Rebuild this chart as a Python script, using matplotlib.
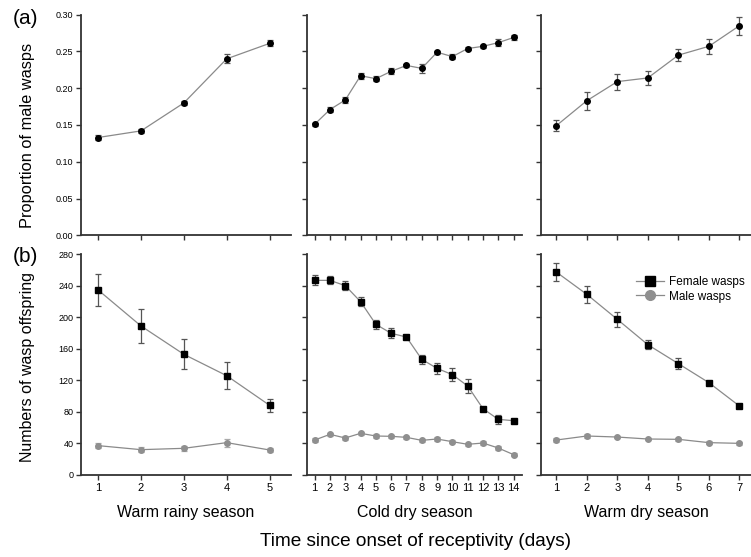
import numpy as np
import matplotlib.pyplot as plt
from matplotlib.lines import Line2D

plt.rcParams['font.family'] = ['Liberation Sans', 'DejaVu Sans']

seasons = ["Warm rainy season", "Cold dry season", "Warm dry season"]

# (a) proportion of male wasps, mean and SE
prop_mean = [
    [0.133, 0.142, 0.180, 0.240, 0.261],
    [0.151, 0.171, 0.184, 0.217, 0.213, 0.223, 0.231, 0.227, 0.249, 0.243, 0.254, 0.257, 0.262, 0.269],
    [0.149, 0.183, 0.209, 0.214, 0.245, 0.257, 0.285],
]
prop_se = [
    [0.004, 0.003, 0.003, 0.006, 0.004],
    [0.002, 0.003, 0.004, 0.004, 0.003, 0.004, 0.002, 0.006, 0.002, 0.003, 0.002, 0.002, 0.005, 0.003],
    [0.0075, 0.012, 0.011, 0.0097, 0.0086, 0.010, 0.012],
]

# (b) offspring numbers
female_mean = [
    [234.4, 188.8, 152.9, 125.8, 88.3],
    [246.6, 246.6, 239.9, 219.6, 190.9, 179.5, 174.8, 146.5, 135.1, 127.1, 112.8, 84.0, 70.5, 68.8],
    [257.2, 228.9, 197.2, 165.1, 141.1, 117.0, 87.4],
]
female_se = [
    [20.5, 21.3, 19.0, 17.1, 8.0],
    [6.3, 4.9, 5.7, 5.3, 5.9, 6.3, 2.0, 5.7, 7.2, 8.2, 9.1, 2.0, 5.9, 2.0],
    [11.2, 10.6, 9.3, 5.5, 6.8, 2.0, 2.0],
]
male_mean = [
    [37.2, 32.1, 33.8, 41.0, 31.7],
    [44.3, 51.5, 46.9, 52.8, 49.4, 49.0, 47.7, 43.9, 45.6, 42.2, 38.9, 40.5, 34.2, 25.8],
    [44.3, 49.4, 48.1, 45.6, 45.2, 41.0, 40.1],
]
male_se = [
    [3.0, 3.0, 3.0, 5.0, 2.0],
    [2.0, 2.0, 2.0, 2.0, 2.0, 2.0, 2.0, 2.0, 2.0, 2.0, 2.0, 2.0, 2.5, 1.5],
    [2.0, 2.0, 1.5, 1.5, 1.5, 1.5, 1.5],
]

W, H = 751, 557
fig = plt.figure(figsize=(W / 100, H / 100), dpi=100)

# panel x extents in pixels and x limits
px = [(81, 291), (307, 522), (541, 751)]
xlims = [(0.6, 5.5), (0.5, 14.55), (0.5, 7.38)]
top_y = (14.7, 235.3)
bot_y = (254, 475)

def make_ax(xr, yr):
    return fig.add_axes([xr[0] / W, 1 - yr[1] / H, (xr[1] - xr[0]) / W, (yr[1] - yr[0]) / H])

def style(ax):
    for s in ['top', 'right']:
        ax.spines[s].set_visible(False)
    for s in ['left', 'bottom']:
        ax.spines[s].set_linewidth(1.3)
        ax.spines[s].set_color('#333333')
    ax.tick_params(direction='out', length=3.5, width=1, color='#333333', labelsize=6.5, pad=2)

line_c = '#8a8a8a'
err_c = '#555555'
ms = 4

for i in range(3):
    n = len(prop_mean[i])
    days = np.arange(1, n + 1)

    ax = make_ax(px[i], top_y)
    style(ax)
    ax.errorbar(days, prop_mean[i], yerr=prop_se[i], color=line_c, lw=0.9,
                marker='o', ms=ms, mfc='black', mec='black',
                ecolor=err_c, elinewidth=0.9, capsize=2, capthick=0.9)
    ax.set_xlim(*xlims[i])
    ax.set_ylim(0, 0.30)
    ax.set_yticks(np.arange(0, 0.31, 0.05))
    ax.set_xticks(days)
    ax.set_xticklabels([])
    if i == 0:
        ax.set_yticklabels(['%.2f' % v for v in np.arange(0, 0.31, 0.05)])
    else:
        ax.set_yticklabels([])

    ax2 = make_ax(px[i], bot_y)
    style(ax2)
    ax2.errorbar(days, female_mean[i], yerr=female_se[i], color=line_c, lw=0.9,
                 marker='s', ms=ms, mfc='black', mec='black',
                 ecolor=err_c, elinewidth=0.9, capsize=2, capthick=0.9)
    ax2.errorbar(days, male_mean[i], yerr=male_se[i], color=line_c, lw=0.9,
                 marker='o', ms=ms, mfc='#8f8f8f', mec='#8f8f8f',
                 ecolor='#aaaaaa', elinewidth=0.9, capsize=2, capthick=0.9)
    ax2.set_xlim(*xlims[i])
    ax2.set_ylim(0, 280)
    ax2.set_yticks(np.arange(0, 281, 40))
    ax2.set_xticks(days)
    ax2.tick_params(axis='x', labelsize=8)
    if i != 0:
        ax2.set_yticklabels([])
    cx = (px[i][0] + px[i][1]) / 2 / W
    fig.text(cx, 1 - 513 / H, seasons[i], ha='center', va='center', fontsize=11.5)
    if i == 2:
        handles = [
            Line2D([], [], color=line_c, lw=0.9, marker='s', ms=7, mfc='black', mec='black'),
            Line2D([], [], color=line_c, lw=0.9, marker='o', ms=7, mfc='#8f8f8f', mec='#8f8f8f'),
        ]
        ax2.legend(handles, ['Female wasps', 'Male wasps'], loc='upper right',
                   bbox_to_anchor=(1.02, 0.95), frameon=False, fontsize=8.5,
                   handlelength=2.4, handletextpad=0.4, labelspacing=0.25)

fig.text(28 / W, 1 - 135 / H, "Proportion of male wasps", rotation=90,
         ha='center', va='center', fontsize=11.8)
fig.text(28 / W, 1 - 367 / H, "Numbers of wasp offspring", rotation=90,
         ha='center', va='center', fontsize=11.5)
fig.text(0.5 * (81 + 751) / W, 1 - 542 / H, "Time since onset of receptivity (days)",
         ha='center', va='center', fontsize=13.7)
fig.text(25 / W, 1 - 19 / H, "(a)", ha='center', va='center', fontsize=15)
fig.text(25 / W, 1 - 257 / H, "(b)", ha='center', va='center', fontsize=15)

fig.savefig('out.png', dpi=100)
